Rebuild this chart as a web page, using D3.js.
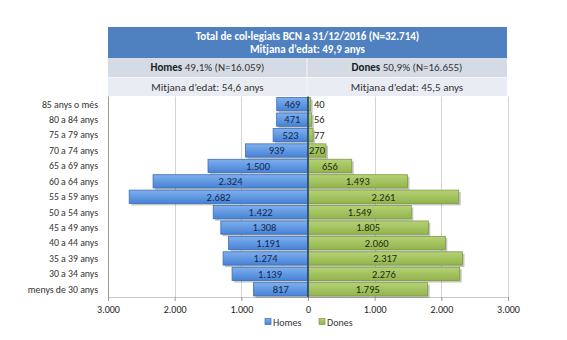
<!DOCTYPE html>
<html><head><meta charset="utf-8">
<script src="https://cdn.jsdelivr.net/npm/d3@7"></script>
<style>
html,body{margin:0;padding:0;background:#fff;}
svg{display:block;}
</style></head>
<body>
<svg id="chart" width="567" height="340"></svg>
<script>
const categories = ["85 anys o més","80 a 84 anys","75 a 79 anys","70 a 74 anys","65 a 69 anys","60 a 64 anys","55 a 59 anys","50 a 54 anys","45 a 49 anys","40 a 44 anys","35 a 39 anys","30 a 34 anys","menys de 30 anys"];
const homes = [469,471,523,939,1500,2324,2682,1422,1308,1191,1274,1139,817];
const dones = [40,56,77,270,656,1493,2261,1549,1805,2060,2317,2276,1795];
const tickValues = [-3000,-2000,-1000,0,1000,2000,3000];
const titleLines = ["Total de col·legiats BCN a 31/12/2016 (N=32.714)","Mitjana d’edat: 49,9 anys"];
const homesHeader = ["Homes"," 49,1% (N=16.059)"];
const donesHeader = ["Dones"," 50,9% (N=16.655)"];
const homesAge = "Mitjana d’edat: 54,6 anys";
const donesAge = "Mitjana d’edat: 45,5 anys";
const seriesNames = ["Homes","Dones"];

(function(){
const svg = d3.select("#chart");
const font = "Carlito, 'Liberation Sans Narrow', 'Liberation Sans', Arial, sans-serif";
const fmt = v => d3.format(",")(v).replace(/,/g,".");

const pLeft = 108, pRight = 508, pTop = 96.5, pBottom = 297;
const x = d3.scaleLinear().domain([-3000,3000]).range([pLeft,pRight]);
const y = d3.scaleBand().domain(categories).range([pTop,pBottom]).paddingInner(0.14).paddingOuter(0.07);

const defs = svg.append("defs");
function grad(id, c1, c2){
  const g = defs.append("linearGradient").attr("id",id).attr("x1",0).attr("x2",0).attr("y1",0).attr("y2",1);
  g.append("stop").attr("offset","0%").attr("stop-color",c1);
  g.append("stop").attr("offset","100%").attr("stop-color",c2);
}
grad("gBlue","#7fb0ee","#4682d6");
grad("gGreen","#b4d275","#93b44c");

// Header
const hx0 = 108, hx1 = 507, hmid = 307;
svg.append("rect").attr("x",hx0).attr("y",27).attr("width",hx1-hx0).attr("height",31).attr("fill","#4f80bf");
svg.append("rect").attr("x",hx0).attr("y",58).attr("width",hx1-hx0).attr("height",19).attr("fill","#d5dbe5");
svg.append("rect").attr("x",hx0).attr("y",77).attr("width",hx1-hx0).attr("height",19).attr("fill","#e9ecf2");
svg.append("line").attr("x1",hmid).attr("x2",hmid).attr("y1",58).attr("y2",96).attr("stroke","#f4f6fa").attr("stroke-width",1);
svg.append("line").attr("x1",hx0).attr("x2",hx1).attr("y1",77.5).attr("y2",77.5).attr("stroke","#f4f6fa").attr("stroke-width",1);
svg.selectAll("text.title").data(titleLines).join("text").attr("class","title")
  .attr("x",(hx0+hx1)/2).attr("y",(d,i)=>39.5+i*13).attr("text-anchor","middle")
  .attr("font-family",font).attr("font-size","11px").attr("font-weight","bold").attr("fill","#fff").text(d=>d);
function headerText(cx, parts){
  const t = svg.append("text").attr("x",cx).attr("y",71).attr("text-anchor","middle")
    .attr("font-family",font).attr("font-size","11px").attr("fill","#222");
  t.append("tspan").attr("font-weight","bold").text(parts[0]);
  t.append("tspan").attr("fill","#333").text(parts[1]);
}
headerText((hx0+hmid)/2, homesHeader);
headerText((hmid+hx1)/2, donesHeader);
svg.append("text").attr("x",(hx0+hmid)/2).attr("y",90.5).attr("text-anchor","middle").attr("font-family",font).attr("font-size","11px").attr("fill","#333").text(homesAge);
svg.append("text").attr("x",(hmid+hx1)/2).attr("y",90.5).attr("text-anchor","middle").attr("font-family",font).attr("font-size","11px").attr("fill","#333").text(donesAge);

// gridlines
svg.selectAll("line.grid").data(tickValues).join("line").attr("class","grid")
  .attr("x1",d=>Math.round(x(d))+0.5).attr("x2",d=>Math.round(x(d))+0.5).attr("y1",pTop).attr("y2",pBottom)
  .attr("stroke",(d,i)=> i===0 ? "#999" : "#d4d4d4").attr("stroke-width",1);

// axis
const axis = d3.axisBottom(x).tickValues(tickValues).tickSize(4).tickFormat(d=>fmt(Math.abs(d)));
const ag = svg.append("g").attr("transform",`translate(0,${pBottom})`).call(axis);
ag.select(".domain").attr("stroke","#c8c8c8");
ag.selectAll(".tick line").attr("stroke","#999");
ag.selectAll(".tick text").attr("font-family",font).attr("font-size","10px").attr("fill","#222").attr("dy","0.9em");

// category labels
svg.selectAll("text.cat").data(categories).join("text").attr("class","cat")
  .attr("x",98).attr("y",d=>y(d)+y.bandwidth()/2).attr("dy","0.35em").attr("text-anchor","end")
  .attr("font-family",font).attr("font-size","9.8px").attr("fill","#333").text(d=>d);

// shadows
const sh = svg.append("g").attr("fill","#000").attr("opacity",0.22);
sh.selectAll("rect.sh").data(categories).join("rect").attr("class","sh")
  .attr("x",(d,i)=>x(-homes[i])+2).attr("y",d=>y(d)+2).attr("width",(d,i)=>x(0)-x(-homes[i])).attr("height",y.bandwidth());
sh.selectAll("rect.sh2").data(categories).join("rect").attr("class","sh2")
  .attr("x",(d,i)=>x(0)+2).attr("y",d=>y(d)+2).attr("width",(d,i)=>x(dones[i])-x(0)).attr("height",y.bandwidth());

// bars
svg.selectAll("rect.h").data(categories).join("rect").attr("class","h")
  .attr("x",(d,i)=>x(-homes[i])).attr("y",d=>y(d)).attr("width",(d,i)=>x(0)-x(-homes[i])).attr("height",y.bandwidth())
  .attr("fill","url(#gBlue)").attr("stroke","#3d6fb6").attr("stroke-width",0.8);
svg.selectAll("rect.d").data(categories).join("rect").attr("class","d")
  .attr("x",x(0)).attr("y",d=>y(d)).attr("width",(d,i)=>x(dones[i])-x(0)).attr("height",y.bandwidth())
  .attr("fill","url(#gGreen)").attr("stroke","#7f9c42").attr("stroke-width",0.8);

// zero line
svg.append("line").attr("x1",x(0)).attr("x2",x(0)).attr("y1",pTop).attr("y2",pBottom).attr("stroke","#1f3c72").attr("stroke-width",1.5);

// value labels
svg.selectAll("text.hv").data(categories).join("text").attr("class","hv")
  .attr("x",(d,i)=>(x(-homes[i])+x(0))/2).attr("y",d=>y(d)+y.bandwidth()/2).attr("dy","0.36em").attr("text-anchor","middle")
  .attr("font-family",font).attr("font-size","10.5px").attr("fill","#12284f").text((d,i)=>fmt(homes[i]));
svg.selectAll("text.dv").data(categories).join("text").attr("class","dv")
  .attr("x",(d,i)=>{const w=x(dones[i])-x(0); return w<15 ? x(0)+6 : (x(0)+x(dones[i]))/2;})
  .attr("y",d=>y(d)+y.bandwidth()/2).attr("dy","0.36em")
  .attr("text-anchor",(d,i)=> (x(dones[i])-x(0))<15 ? "start" : "middle")
  .attr("font-family",font).attr("font-size","10.5px").attr("fill","#1d2a10").text((d,i)=>fmt(dones[i]));

// legend
const lg = svg.append("g").attr("transform","translate(0,322)");
const legendItems = [{name:seriesNames[0],x:265,fill:"url(#gBlue)",stroke:"#3d6fb6"},{name:seriesNames[1],x:319,fill:"url(#gGreen)",stroke:"#7f9c42"}];
legendItems.forEach(it=>{
  lg.append("rect").attr("x",it.x).attr("y",-3.5).attr("width",6).attr("height",6).attr("fill",it.fill).attr("stroke",it.stroke).attr("stroke-width",0.7);
  lg.append("text").attr("x",it.x+8).attr("y",0).attr("dy","0.35em").attr("font-family",font).attr("font-size","10px").attr("fill","#333").text(it.name);
});
})();
</script>
</body></html>
